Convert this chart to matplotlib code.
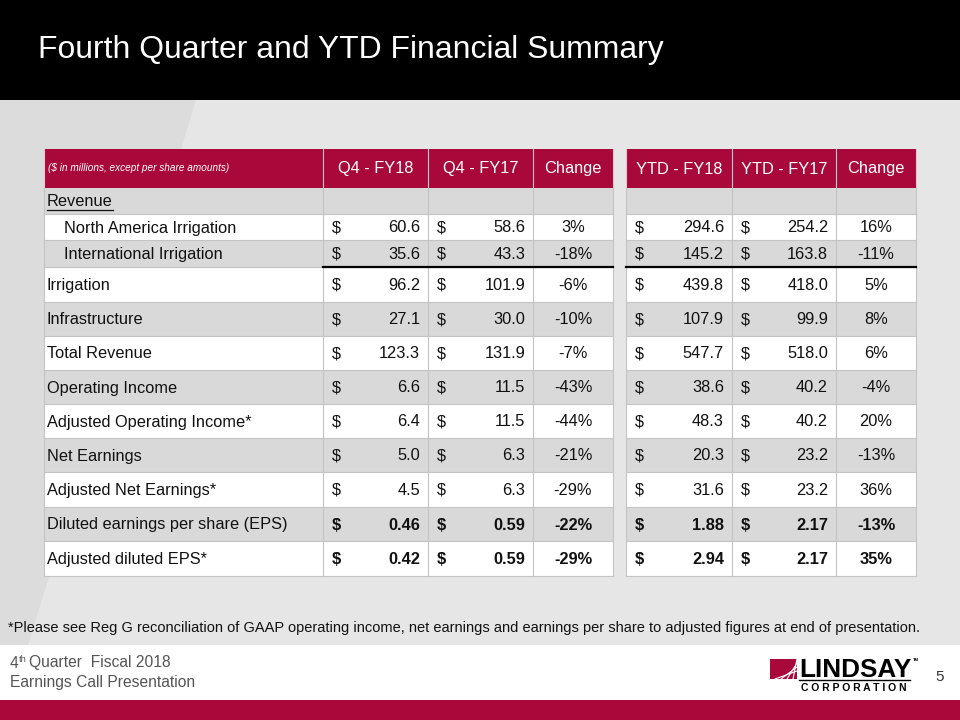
import matplotlib
matplotlib.use('Agg')
import matplotlib.pyplot as plt
from matplotlib import font_manager
from matplotlib.patches import Rectangle, Polygon

# ---- data ----
row_labels = ['Revenue', 'North America Irrigation', 'International Irrigation',
              'Irrigation', 'Infrastructure', 'Total Revenue', 'Operating Income',
              'Adjusted Operating Income*', 'Net Earnings', 'Adjusted Net Earnings*',
              'Diluted earnings per share (EPS)', 'Adjusted diluted EPS*']
q4_fy18 = [None, 60.6, 35.6, 96.2, 27.1, 123.3, 6.6, 6.4, 5.0, 4.5, 0.46, 0.42]
q4_fy17 = [None, 58.6, 43.3, 101.9, 30.0, 131.9, 11.5, 11.5, 6.3, 6.3, 0.59, 0.59]
q4_change = [None, 3, -18, -6, -10, -7, -43, -44, -21, -29, -22, -29]
ytd_fy18 = [None, 294.6, 145.2, 439.8, 107.9, 547.7, 38.6, 48.3, 20.3, 31.6, 1.88, 2.94]
ytd_fy17 = [None, 254.2, 163.8, 418.0, 99.9, 518.0, 40.2, 40.2, 23.2, 23.2, 2.17, 2.17]
ytd_change = [None, 16, -11, 5, 8, 6, -4, 20, -13, 36, -13, 35]
col_headers = ['Q4 - FY18', 'Q4 - FY17', 'Change', 'YTD - FY18', 'YTD - FY17', 'Change']
indented = [1, 2]
bold_rows = [10, 11]

title = 'Fourth Quarter and YTD Financial Summary'
units_note = '($ in millions, except per share amounts)'
footnote = ('*Please see Reg G reconciliation of GAAP operating income, net earnings and '
            'earnings per share to adjusted figures at end of presentation.')

CRIMSON = '#a8093a'
ROW_GREY = '#d9d9d9'
TXT = '#111111'
FONT = 'Liberation Sans'
names = {f.name for f in font_manager.fontManager.ttflist}
NARROW = 'Liberation Sans Narrow' if 'Liberation Sans Narrow' in names else FONT

# ---- layout (pixels) ----
row_edges = [188, 214, 240, 267, 301.5, 336, 370, 404, 438, 472, 507, 541, 576]
head_top = 149
left_cols = [44, 323, 428, 533, 613]
right_cols = [626, 732, 836, 916]

fig = plt.figure(figsize=(9.6, 7.2), dpi=100)
ax = fig.add_axes([0, 0, 1, 1])
ax.set_xlim(0, 960)
ax.set_ylim(720, 0)
ax.axis('off')
inv = ax.transData.inverted()

def fit(t, width):
    fig.canvas.draw()
    bb = t.get_window_extent()
    t.set_fontsize(t.get_fontsize() * width / bb.width)

def right_end(t):
    fig.canvas.draw()
    bb = t.get_window_extent()
    return inv.transform([(bb.x1, bb.y0)])[0][0]

# background
ax.add_patch(Rectangle((0, 100), 960, 545, color='#e6e6e6', lw=0))
ax.add_patch(Polygon([(0, 100), (196, 100), (28, 645), (0, 645)], closed=True, color='#dcdcdc', lw=0))
ax.add_patch(Rectangle((0, 0), 960, 100, color='black', lw=0))
ax.add_patch(Rectangle((0, 645), 960, 55, color='white', lw=0))
ax.add_patch(Rectangle((0, 700), 960, 20, color=CRIMSON, lw=0))

t = ax.text(38, 50, title, color='white', fontsize=22, family=NARROW, va='center', ha='left')
fit(t, 625)

# tables
for cols in (left_cols, right_cols):
    x0, x1 = cols[0], cols[-1]
    ax.add_patch(Rectangle((x0, head_top), x1 - x0, row_edges[0] - head_top, color=CRIMSON, lw=0))
    for i in range(len(row_labels)):
        c = ROW_GREY if i % 2 == 0 else 'white'
        ax.add_patch(Rectangle((x0, row_edges[i]), x1 - x0, row_edges[i + 1] - row_edges[i], color=c, lw=0))
    for y in row_edges[1:]:
        ax.plot([x0, x1], [y, y], color='#c4c4c4', lw=0.8)
    for x in cols:
        ax.plot([x, x], [head_top, row_edges[0]], color='#e8c4cf', lw=0.8)
        ax.plot([x, x], [row_edges[0], row_edges[-1]], color='#c4c4c4', lw=0.8)
    ax.plot([cols[1] if cols is left_cols else x0, x1], [row_edges[3], row_edges[3]], color='black', lw=1.6)

# header text
ax.text(48, 168, units_note, color='white', fontsize=7.2, style='italic', family=FONT, va='center')
centers = [(a + b) / 2 for a, b in zip(left_cols[1:], left_cols[2:])] + \
          [(a + b) / 2 for a, b in zip(right_cols[:-1], right_cols[1:])]
for cx, h in zip(centers, col_headers):
    ax.text(cx, 169, h, color='white', fontsize=11.8, family=FONT, ha='center', va='center')

money_cols = [(left_cols[1], left_cols[2], q4_fy18), (left_cols[2], left_cols[3], q4_fy17),
              (right_cols[0], right_cols[1], ytd_fy18), (right_cols[1], right_cols[2], ytd_fy17)]
chg_cols = [((left_cols[3] + left_cols[4]) / 2, q4_change), ((right_cols[2] + right_cols[3]) / 2, ytd_change)]

for i, lab in enumerate(row_labels):
    yc = (row_edges[i] + row_edges[i + 1]) / 2 + 1
    w = 'bold' if i in bold_rows else 'normal'
    lx = 64 if i in indented else 47
    lt = ax.text(lx, yc, lab, fontsize=11.8, family=FONT, va='center', ha='left', color=TXT)
    if i == 0:
        ax.plot([lx, right_end(lt)], [yc + 7.5, yc + 7.5], color=TXT, lw=0.9)
        continue
    fmt = '{:.2f}' if i in bold_rows else '{:.1f}'
    for a, b, vals in money_cols:
        ax.text(a + 9, yc, '$', fontsize=11.8, family=FONT, weight=w, va='center', ha='left', color=TXT)
        ax.text(b - 8, yc, fmt.format(vals[i]), fontsize=11.8, family=FONT, weight=w,
                va='center', ha='right', color=TXT)
    for cx, vals in chg_cols:
        ax.text(cx, yc, f'{vals[i]}%', fontsize=11.8, family=FONT, weight=w, va='center', ha='center', color=TXT)

# footnote
t = ax.text(8, 628, footnote, fontsize=9.5, family=FONT, va='center', ha='left', color=TXT)
fit(t, 909)

# footer
t2 = ax.text(10, 682, 'Earnings Call Presentation', fontsize=10.5, family=NARROW,
             va='center', ha='left', color='#555555')
fit(t2, 186)
fs = t2.get_fontsize()
f4 = ax.text(10, 663, '4', fontsize=fs, family=NARROW, va='center', ha='left', color='#555555')
x = right_end(f4)
ft = ax.text(x, 659, 'th', fontsize=fs * 0.6, family=NARROW, va='center', ha='left', color='#555555')
x = right_end(ft)
ax.text(x + 2, 663, 'Quarter  Fiscal 2018', fontsize=fs, family=NARROW, va='center', ha='left', color='#555555')
ax.text(940, 677, '5', fontsize=11, family=NARROW, va='center', ha='center', color='#333333')

# logo
ax.add_patch(Rectangle((770, 659), 27, 20, color=CRIMSON, lw=0))
for k in range(4):
    ax.plot([775 + k * 6, 797], [679, 667 - k * 4 + 4], color='white', lw=0.8)
lt = ax.text(799, 682, 'LINDSAY', fontsize=18, family=NARROW, weight='bold', va='bottom', ha='left', color='black')
fit(lt, 112)
ax.text(913, 660, 'TM', fontsize=3, family=FONT, weight='bold', va='center', ha='left')
ax.plot([799, 910], [680, 680], color='black', lw=1)
ct = ax.text(801, 683, 'C O R P O R A T I O N', fontsize=4.5, family=FONT, weight='bold', va='top', ha='left')
fit(ct, 106)

fig.savefig('out.png', dpi=100)
